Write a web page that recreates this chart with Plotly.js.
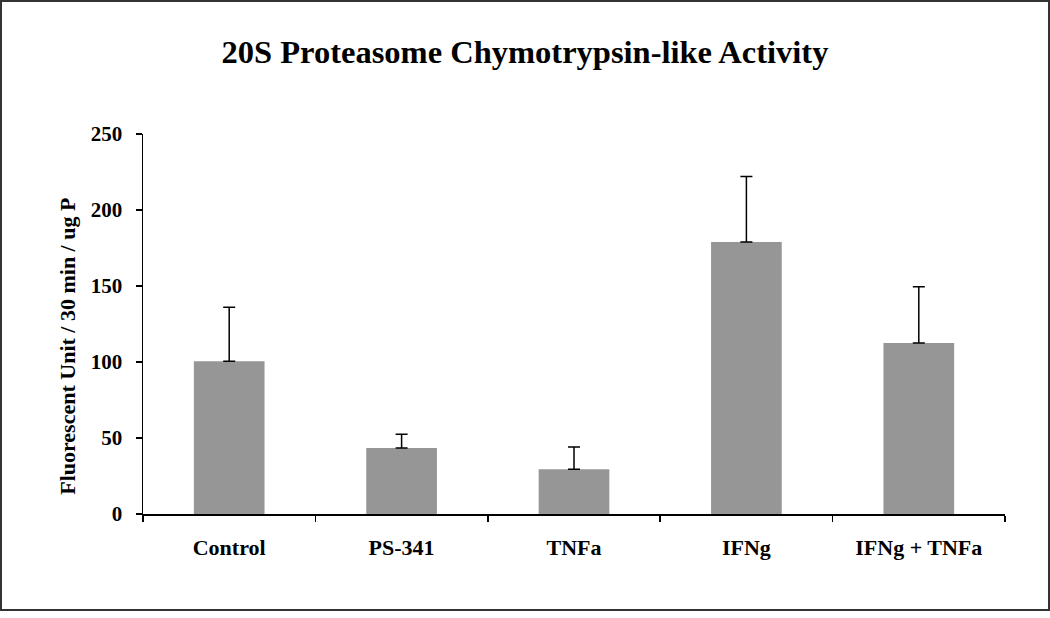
<!DOCTYPE html>
<html><head><meta charset="utf-8">
<script src="https://cdn.plot.ly/plotly-3.0.1.min.js"></script>
<style>
html,body{margin:0;padding:0;background:#fff;}
#frame{position:absolute;left:0;top:0;width:1046px;height:607px;border:2px solid #333;}
#chart{width:1046px;height:607px;}
</style></head>
<body><div id="frame"><div id="chart"></div></div>
<script>
const categories = ["Control", "PS-341", "TNFa", "IFNg", "IFNg + TNFa"];
const means = [100.5, 43.5, 29.5, 179, 112.5];
const errPlus = [35.5, 9, 14.5, 43, 37];
const errMinus = [0, 0, 0, 0, 0];
const yTicks = [0, 50, 100, 150, 200, 250];

const serif = "Liberation Serif, Times New Roman, serif";

Plotly.newPlot("chart", [{
  type: "bar",
  x: categories,
  y: means,
  marker: {color: "#969696", line: {width: 0}},
  error_y: {type: "data", symmetric: false, array: errPlus, arrayminus: errMinus,
            color: "#000", thickness: 1.5, width: 6},
  hoverinfo: "none"
}], {
  width: 1046, height: 607,
  margin: {l: 141, r: 43, t: 132, b: 95},
  paper_bgcolor: "#fff", plot_bgcolor: "#fff",
  bargap: 0.59,
  showlegend: false,
  title: {text: "20S Proteasome Chymotrypsin-like Activity",
          font: {family: serif, size: 32.5, color: "#000", weight: "bold"},
          x: 0.5, xanchor: "center", y: 0.918, yanchor: "middle"},
  annotations: [{text: "Fluorescent Unit / 30 min / ug P", textangle: -90,
                 xref: "paper", yref: "paper", x: -0.087, y: 0.44,
                 xanchor: "center", yanchor: "middle", showarrow: false,
                 font: {family: serif, size: 22, color: "#000", weight: "bold"}}],
  xaxis: {type: "category", showline: true, linecolor: "#000", linewidth: 1.5,
          ticks: "outside", tickson: "boundaries", ticklen: 6, tickwidth: 1.5, tickcolor: "#000",
          ticklabelstandoff: 13,
          tickfont: {family: serif, size: 22, color: "#000", weight: "bold"},
          showgrid: false, zeroline: false, fixedrange: true},
  yaxis: {range: [0, 250], tickvals: yTicks,
          showline: true, linecolor: "#000", linewidth: 1.5,
          ticks: "outside", ticklen: 6, tickwidth: 1.5, tickcolor: "#000",
          ticklabelstandoff: 9,
          tickfont: {family: serif, size: 21, color: "#000", weight: "bold"},
          showgrid: false, zeroline: false, fixedrange: true}
}, {displayModeBar: false, staticPlot: true});
</script></body></html>
